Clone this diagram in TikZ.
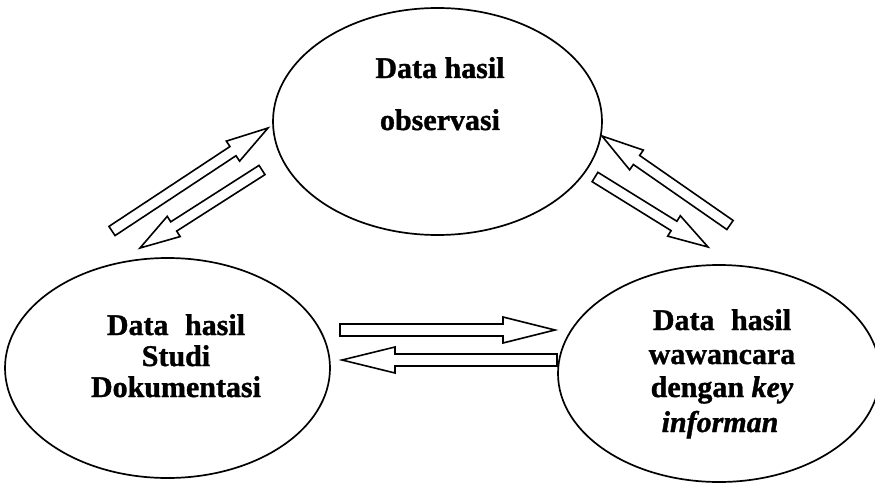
\documentclass[tikz,border=0pt]{standalone}
\usepackage{fontspec}
\setmainfont{Liberation Serif}[BoldFeatures={FakeBold=1.2},BoldItalicFeatures={FakeBold=1.2}]
\usetikzlibrary{calc,shapes.geometric}
\tikzset{
  ell/.style={draw, ellipse, line width=1.7pt, inner sep=0pt},
  lbl/.style={font=\bfseries\fontsize{30}{33}\selectfont, anchor=base, inner sep=0pt},
  hollow/.style={draw, line width=1.6pt, line join=miter, fill=white},
}
% #1 tail, #2 tip, #3 shaft half width, #4 head half width, #5 head length
\newcommand\hollowarrow[5]{%
  \coordinate (#1-#2-b) at ($(#2)!#5!(#1)$);
  \draw[hollow] ($(#1)!#3!90:(#2)$) -- ($(#1-#2-b)!#3!90:(#2)$) -- ($(#1-#2-b)!#4!90:(#2)$)
    -- (#2) -- ($(#1-#2-b)!#4!-90:(#2)$) -- ($(#1-#2-b)!#3!-90:(#2)$)
    -- ($(#1)!#3!-90:(#2)$) -- cycle;
}
\begin{document}
\begin{tikzpicture}[x=1pt,y=-1pt]
\useasboundingbox (0,0) rectangle (875,484);
\clip (0,0) rectangle (875,484);

% ellipses
\node[ell, minimum width=329pt, minimum height=227pt] (obs) at (437.5,121.5) {};
\node[ell, minimum width=325pt, minimum height=220pt] (dok) at (167.5,368) {};
\node[ell, minimum width=322pt, minimum height=217pt] (waw) at (719,373.5) {};

% texts
\node[lbl] (obs1) at (440,78) {Data hasil};
\node[lbl] (obs2) at (440,130) {observasi};

\node[lbl] (dok1) at (176,335) {Data\hspace{9pt} hasil};
\node[lbl] (dok2) at (176,366) {Studi};
\node[lbl] (dok3) at (176,397) {Dokumentasi};

\node[lbl] (waw1) at (722,330) {Data\hspace{9pt} hasil};
\node[lbl] (waw2) at (722,364) {wawancara};
\node[lbl] (waw3) at (722,397) {dengan \textit{key}};
\node[lbl] (waw4) at (720,432) {\textit{informan}};

% arrow end points
\coordinate (a1t) at (112,231);  \coordinate (a1h) at (268,128);
\coordinate (a2t) at (262,170);  \coordinate (a2h) at (140,248);
\coordinate (a3t) at (730,225);  \coordinate (a3h) at (602,136);
\coordinate (a4t) at (595,177);  \coordinate (a4h) at (708,247);
\coordinate (a5t) at (340,330);  \coordinate (a5h) at (555,330);
\coordinate (a6t) at (557,360);  \coordinate (a6h) at (342,360);

\hollowarrow{a1t}{a1h}{5.5pt}{12pt}{42pt}
\hollowarrow{a2t}{a2h}{5.5pt}{12pt}{40pt}
\hollowarrow{a3t}{a3h}{5.5pt}{12pt}{42pt}
\hollowarrow{a4t}{a4h}{5.5pt}{12pt}{40pt}
\hollowarrow{a5t}{a5h}{6pt}{13pt}{52pt}
\hollowarrow{a6t}{a6h}{6pt}{13pt}{53pt}
\end{tikzpicture}
\end{document}
